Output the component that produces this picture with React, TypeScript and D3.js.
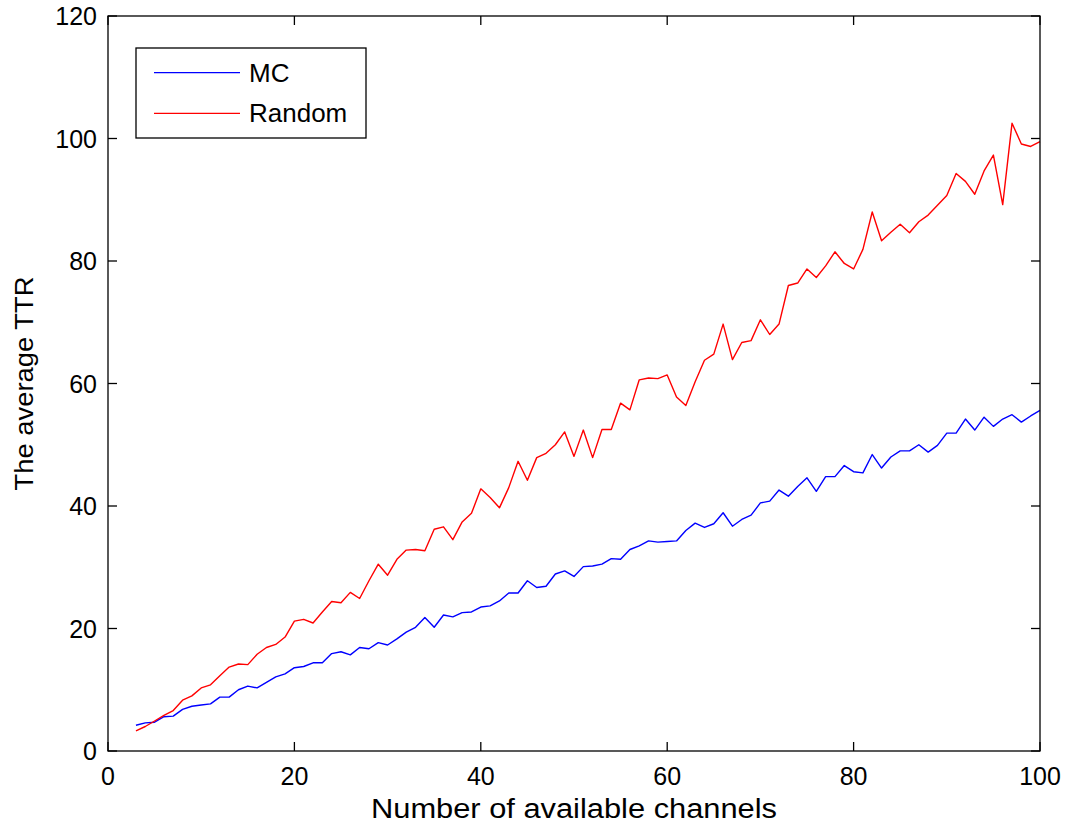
import React from "react";
import * as d3 from "d3";

// Number of available channels (x) runs from 3 to 100
const channels: number[] = d3.range(3, 101);

const mcTTR: number[] = [
  4.2, 4.6, 4.7, 5.6, 5.7, 6.8, 7.3, 7.5, 7.7, 8.8,
  8.8, 10.0, 10.6, 10.3, 11.2, 12.1, 12.6, 13.6, 13.8, 14.4,
  14.4, 15.9, 16.2, 15.7, 16.9, 16.7, 17.7, 17.3, 18.3, 19.4,
  20.2, 21.8, 20.2, 22.2, 21.9, 22.6, 22.7, 23.5, 23.7, 24.5,
  25.8, 25.8, 27.8, 26.7, 26.9, 28.9, 29.4, 28.5, 30.1, 30.2,
  30.5, 31.4, 31.3, 32.9, 33.5, 34.3, 34.1, 34.2, 34.3, 36.0,
  37.2, 36.5, 37.1, 38.9, 36.7, 37.8, 38.5, 40.5, 40.8, 42.6,
  41.6, 43.2, 44.6, 42.4, 44.8, 44.8, 46.6, 45.6, 45.4, 48.4,
  46.2, 48.0, 49.0, 49.0, 50.0, 48.8, 49.9, 51.9, 51.9, 54.2,
  52.4, 54.5, 53.0, 54.2, 54.9, 53.7, 54.7, 55.6,
];

const randomTTR: number[] = [
  3.3, 4.0, 4.9, 5.8, 6.6, 8.3, 9.0, 10.3, 10.8, 12.3,
  13.7, 14.2, 14.1, 15.8, 16.9, 17.4, 18.6, 21.2, 21.5, 20.9,
  22.7, 24.4, 24.2, 25.9, 24.9, 27.8, 30.5, 28.7, 31.3, 32.8,
  32.9, 32.7, 36.2, 36.6, 34.5, 37.4, 38.8, 42.8, 41.4, 39.7,
  43.0, 47.3, 44.2, 47.9, 48.6, 50.0, 52.1, 48.1, 52.4, 47.9,
  52.5, 52.5, 56.8, 55.7, 60.6, 60.9, 60.8, 61.4, 57.8, 56.4,
  60.3, 63.8, 64.8, 69.7, 63.9, 66.7, 67.0, 70.4, 68.0, 69.7,
  76.0, 76.4, 78.7, 77.3, 79.2, 81.5, 79.6, 78.7, 81.9, 88.0,
  83.3, 84.7, 86.0, 84.6, 86.4, 87.5, 89.1, 90.7, 94.3, 93.0,
  90.9, 94.7, 97.3, 89.2, 102.5, 99.1, 98.7, 99.5,
];

const xTicks: number[] = [0, 20, 40, 60, 80, 100];
const yTicks: number[] = [0, 20, 40, 60, 80, 100, 120];

const seriesNames: string[] = ["MC", "Random"];
const seriesColors: string[] = ["#0000ff", "#ff0000"];

const W = 1070;
const H = 827;
const left = 108;
const right = 1040;
const top = 16;
const bottom = 751;
const tickLen = 9;
const font = "'Liberation Sans', Arial, Helvetica, sans-serif";

export default function App() {
  const x = d3.scaleLinear().domain([0, 100]).range([left, right]);
  const y = d3.scaleLinear().domain([0, 120]).range([bottom, top]);

  const line = d3
    .line<number>()
    .x((_, i) => x(channels[i]))
    .y((d) => y(d));

  const series = [mcTTR, randomTTR];

  return (
    <svg
      width={W}
      height={H}
      style={{ position: "fixed", left: 0, top: 0, background: "#fff" }}
      fontFamily={font}
    >
      <rect x={0} y={0} width={W} height={H} fill="#fff" />

      {/* data lines */}
      <g fill="none" strokeWidth={1.4} strokeLinejoin="round">
        {series.map((s, k) => (
          <path key={k} d={line(s) || ""} stroke={seriesColors[k]} />
        ))}
      </g>

      {/* axes box */}
      <rect
        x={left}
        y={top}
        width={right - left}
        height={bottom - top}
        fill="none"
        stroke="#000"
        strokeWidth={1.3}
      />

      {/* x ticks, bottom and top */}
      <g stroke="#000" strokeWidth={1.3}>
        {xTicks.map((t) => (
          <g key={"xt" + t}>
            <line x1={x(t)} x2={x(t)} y1={bottom} y2={bottom - tickLen} />
            <line x1={x(t)} x2={x(t)} y1={top} y2={top + tickLen} />
          </g>
        ))}
        {yTicks.map((t) => (
          <g key={"yt" + t}>
            <line x1={left} x2={left + tickLen} y1={y(t)} y2={y(t)} />
            <line x1={right} x2={right - tickLen} y1={y(t)} y2={y(t)} />
          </g>
        ))}
      </g>

      {/* tick labels */}
      <g fontSize={25} fill="#000">
        {xTicks.map((t) => (
          <text key={"xl" + t} x={x(t)} y={bottom + 34} textAnchor="middle">
            {t}
          </text>
        ))}
        {yTicks.map((t) => (
          <text
            key={"yl" + t}
            x={left - 11}
            y={y(t) + 9}
            textAnchor="end"
          >
            {t}
          </text>
        ))}
      </g>

      {/* axis labels */}
      <text
        x={(left + right) / 2}
        y={818}
        textAnchor="middle"
        fontSize={27}
        textLength={406}
        lengthAdjust="spacingAndGlyphs"
      >
        Number of available channels
      </text>
      <text
        transform={`translate(33, ${(top + bottom) / 2}) rotate(-90)`}
        textAnchor="middle"
        fontSize={26}
        textLength={214}
        lengthAdjust="spacingAndGlyphs"
      >
        The average TTR
      </text>

      {/* legend */}
      <g>
        <rect
          x={136}
          y={48}
          width={230}
          height={90}
          fill="#fff"
          stroke="#000"
          strokeWidth={1.3}
        />
        {seriesNames.map((name, k) => {
          const ly = 72.7 + k * 40.6;
          return (
            <g key={name}>
              <line
                x1={154}
                x2={240}
                y1={ly}
                y2={ly}
                stroke={seriesColors[k]}
                strokeWidth={1.2}
              />
              <text x={249} y={ly + 9} fontSize={26}>
                {name}
              </text>
            </g>
          );
        })}
      </g>
    </svg>
  );
}
